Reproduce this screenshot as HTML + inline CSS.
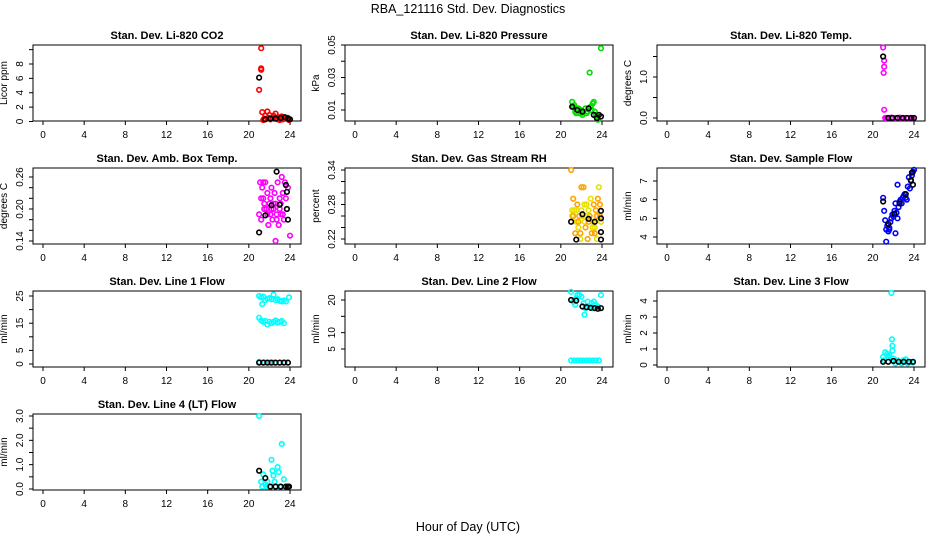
<!DOCTYPE html>
<html><head><meta charset="utf-8"><style>
body{margin:0;background:#fff}
svg{display:block;font-family:"Liberation Sans",Arial,sans-serif}
</style></head><body>
<svg id="c" width="936" height="540" viewBox="0 0 936 540" xmlns="http://www.w3.org/2000/svg">
<text x="468" y="13" text-anchor="middle" font-size="12.5">RBA_121116  Std. Dev. Diagnostics</text>
<text x="468" y="531" text-anchor="middle" font-size="12.5">Hour of Day (UTC)</text>
</svg>
<script>
const xTicks=[0,4,8,12,16,20,24];
// Panel 1 CO2
const p1Hours=[21.2,21.2,21.2,21.0,21.3,21.5,21.8,22.0,22.3,22.6,22.9,23.2,23.5,21.6,22.1,22.8,23.8,23.9,21.4,23.0,22.4,21.9,23.3];
const p1Values=[10.2,7.4,7.2,4.4,1.3,0.4,1.4,0.9,0.5,1.1,0.6,0.7,0.4,0.8,0.3,0.3,0.5,0.2,0.2,0.2,0.8,0.5,0.3];
const p1BlackHours=[21.0,21.6,22.1,22.6,23.1,23.5,23.8,24.0];
const p1BlackValues=[6.1,0.3,0.4,0.4,0.5,0.6,0.4,0.3];
// Panel 2 Pressure
const p2Hours=[21.1,21.2,21.4,21.5,21.7,21.9,22.0,22.2,22.4,22.6,22.8,22.9,23.0,23.1,23.2,23.4,23.5,23.6,23.9,21.3,22.1,22.5,23.3,21.8,22.7];
const p2Values=[0.015,0.012,0.009,0.008,0.011,0.010,0.008,0.009,0.011,0.009,0.033,0.012,0.010,0.014,0.015,0.007,0.006,0.004,0.048,0.013,0.007,0.008,0.009,0.008,0.011];
const p2BlackHours=[21.1,21.6,22.1,22.7,23.2,23.7,23.9,23.5];
const p2BlackValues=[0.012,0.010,0.009,0.011,0.007,0.007,0.006,0.005];
// Panel 3 Temp
const p3Hours=[21.0,21.1,21.1,21.05,21.1,21.2,21.5,21.8,22.2,22.6,23.0,23.4,23.8,21.35,22.8];
const p3Values=[1.72,1.4,1.25,1.1,0.2,0,0,0.01,0,0.01,0,0,0,0,0];
const p3BlackHours=[21.0,21.5,21.9,22.4,22.9,23.3,23.7,24.0];
const p3BlackValues=[1.5,0,0,0,0,0,0,0];
// Panel 4 Box temp
const p4Hours=[21.0,21.1,21.2,21.3,21.4,21.5,21.6,21.7,21.8,21.9,22.0,22.1,22.2,22.3,22.4,22.5,22.6,22.7,22.8,22.9,23.0,23.1,23.2,23.3,23.4,23.5,23.6,23.7,23.8,24.0,21.2,21.5,21.8,22.1,22.4,22.7,23.0,23.3,21.4,22.6,23.1,22.2];
const p4Values=[0.19,0.25,0.18,0.24,0.22,0.21,0.25,0.20,0.23,0.17,0.21,0.19,0.24,0.18,0.20,0.23,0.14,0.19,0.25,0.17,0.22,0.21,0.26,0.19,0.18,0.25,0.22,0.20,0.24,0.15,0.22,0.20,0.19,0.22,0.21,0.18,0.20,0.23,0.25,0.21,0.19,0.20];
const p4BlackHours=[21.0,21.6,22.2,22.7,23.0,23.6,23.7,23.7,23.8];
const p4BlackValues=[0.156,0.188,0.207,0.270,0.208,0.245,0.200,0.232,0.180];
// Panel 5 RH
const p5Hours=[21.0,21.1,21.2,21.3,21.4,21.5,21.6,21.7,21.8,21.9,22.0,22.1,22.2,22.3,22.4,22.5,22.6,22.7,22.8,22.9,23.0,23.1,23.2,23.3,23.4,23.5,23.6,23.7,23.8,23.9,21.2,21.5,21.9,22.3,22.7,23.1,23.5,21.1,21.7,22.5,23.3,22.0,23.8];
const p5Values=[0.34,0.26,0.29,0.27,0.23,0.25,0.28,0.24,0.26,0.22,0.31,0.26,0.31,0.25,0.24,0.28,0.22,0.27,0.26,0.29,0.23,0.25,0.28,0.24,0.27,0.22,0.29,0.31,0.26,0.25,0.26,0.27,0.23,0.28,0.25,0.24,0.26,0.27,0.25,0.26,0.23,0.27,0.28];
const p5BlackHours=[21.0,21.5,22.1,22.7,23.3,23.9,23.9,23.9,23.9];
const p5BlackValues=[0.250,0.219,0.263,0.255,0.250,0.269,0.256,0.232,0.219];
// Panel 6 Sample flow
const p6Hours=[21.0,21.1,21.2,21.3,21.4,21.5,21.6,21.7,21.8,21.9,22.0,22.1,22.2,22.3,22.4,22.5,22.6,22.7,22.8,22.9,23.0,23.1,23.2,23.3,23.4,23.5,23.6,23.7,23.8,23.9,24.0,21.3,21.6,22.2,22.4];
const p6Values=[6.1,5.4,4.9,4.4,4.6,4.3,4.5,4.8,5.0,5.2,5.1,5.4,5.8,5.3,6.8,5.6,5.9,6.0,5.8,6.1,6.2,6.3,6.1,6.0,6.7,7.2,6.6,7.0,7.3,7.5,7.6,3.75,4.4,4.2,5.0];
const p6BlackHours=[21.0,21.5,22.1,22.6,23.2,23.7,23.8,23.9];
const p6BlackValues=[5.9,4.7,5.25,5.8,6.3,7.05,7.45,6.8];
// Panel 7 Line 1 flow
const p7Hours=[21.0,21.2,21.4,21.6,21.8,22.0,22.2,22.4,22.6,22.8,23.0,23.2,23.4,23.6,23.9,21.3,21.0,21.2,21.4,21.6,21.8,22.0,22.2,22.4,22.6,22.8,23.0,23.2,23.4,21.0,21.5,22.0,22.5,23.0,23.5];
const p7Values=[25,24.5,24.8,23.5,24,24.2,23.8,25.5,23.5,23.8,23.2,23,23.4,23,24.5,22,17,16,15.5,15.8,14.5,15.5,15,15.5,16,15.2,15.5,15.8,15,0.8,0.6,0.5,0.5,0.5,0.6];
const p7BlackHours=[21.0,21.4,21.8,22.2,22.6,23.0,23.4,23.8];
const p7BlackValues=[0.5,0.5,0.5,0.5,0.5,0.5,0.5,0.5];
// Panel 8 Line 2 flow
const p8Hours=[21.0,21.2,21.4,21.6,21.8,22.0,22.2,22.4,22.6,22.8,23.0,23.2,23.4,23.6,23.9,21.5,22.3,23.1,21.0,21.3,21.6,21.9,22.2,22.5,22.8,23.1,23.4,23.7];
const p8Values=[22.5,19.5,18.5,21.5,21.5,21,19,17.5,19.5,18,19,19.5,18.5,18,21.5,20.5,15.5,17.5,1.5,1.5,1.5,1.5,1.5,1.5,1.5,1.5,1.5,1.5];
const p8BlackHours=[21.0,21.5,22.1,22.5,22.9,23.3,23.6,23.9];
const p8BlackValues=[20,19.8,18,17.8,17.6,17.5,17.3,17.5];
// Panel 9 Line 3 flow
const p9Hours=[21.0,21.2,21.4,21.6,21.8,21.85,21.9,21.9,22.0,22.2,22.4,22.6,22.8,23.0,23.2,23.4,23.6,23.9,21.1,21.5];
const p9Values=[0.5,0.8,0.7,0.6,4.5,1.6,1.2,0.9,0.4,0.1,0.3,0.2,0.1,0.3,0.35,0.1,0.2,0.15,0.3,0.5];
const p9BlackHours=[21.0,21.5,22.0,22.5,23.0,23.5,23.9];
const p9BlackValues=[0.2,0.2,0.25,0.2,0.2,0.2,0.2];
// Panel 10 Line 4 flow
const p10Hours=[21.0,21.2,21.4,21.6,21.8,22.0,22.2,22.3,22.4,22.5,22.8,22.9,23.0,23.2,23.4,23.6,23.9,21.3,21.7,22.6,23.1];
const p10Values=[3.0,0.3,0.6,0.2,0.3,0.1,1.2,0.75,0.55,0.3,0.9,0.7,0.1,1.85,0.4,0.1,0.1,0.1,0.1,0.1,0.1];
const p10BlackHours=[21.0,21.6,22.1,22.6,23.1,23.6,23.8,23.9];
const p10BlackValues=[0.75,0.45,0.1,0.1,0.1,0.1,0.1,0.1];

const NS='http://www.w3.org/2000/svg';
const svg=document.getElementById('c');
function mk(tag,attrs,parent){const e=document.createElementNS(NS,tag);for(const k in attrs)e.setAttribute(k,attrs[k]);(parent||svg).appendChild(e);return e;}

const panels=[
 {id:'co2',title:'Stan. Dev. Li-820 CO2',yl:'Licor ppm',col:0,row:0,cal:[0,121.5,8,64],ticks:[0,2,4,6,8,10],labels:['0','2','4','6','8',''],c:['#ff0000'],h:p1Hours,v:p1Values,bh:p1BlackHours,bv:p1BlackValues},
 {id:'pressure',title:'Stan. Dev. Li-820 Pressure',yl:'kPa',col:1,row:0,cal:[0.01,110,0.05,45],ticks:[0.01,0.02,0.03,0.04,0.05],labels:['0.01','','0.03','','0.05'],c:['#00e000'],h:p2Hours,v:p2Values,bh:p2BlackHours,bv:p2BlackValues},
 {id:'temp',title:'Stan. Dev. Li-820 Temp.',yl:'degrees C',col:2,row:0,cal:[0,118,1,77],ticks:[0,0.5,1,1.5],labels:['0.0','','1.0',''],c:['#ff00ff'],h:p3Hours,v:p3Values,bh:p3BlackHours,bv:p3BlackValues},
 {id:'box-temp',title:'Stan. Dev. Amb. Box Temp.',yl:'degrees C',col:0,row:1,cal:[0.14,241,0.26,177],ticks:[0.14,0.16,0.18,0.20,0.22,0.24,0.26],labels:['0.14','','','0.20','','','0.26'],c:['#ff00ff'],h:p4Hours,v:p4Values,bh:p4BlackHours,bv:p4BlackValues},
 {id:'rh',title:'Stan. Dev. Gas Stream RH',yl:'percent',col:1,row:1,cal:[0.22,239,0.34,170],ticks:[0.22,0.24,0.26,0.28,0.30,0.32,0.34],labels:['0.22','','','0.28','','','0.34'],c:['#ffa500','#e8e000'],h:p5Hours,v:p5Values,bh:p5BlackHours,bv:p5BlackValues},
 {id:'sample-flow',title:'Stan. Dev. Sample Flow',yl:'ml/min',col:2,row:1,cal:[4,237,7,181],ticks:[4,5,6,7],labels:['4','5','6','7'],c:['#0000ff'],h:p6Hours,v:p6Values,bh:p6BlackHours,bv:p6BlackValues},
 {id:'line1-flow',title:'Stan. Dev. Line 1 Flow',yl:'ml/min',col:0,row:2,cal:[0,364,25,296],ticks:[0,5,10,15,20,25],labels:['0','5','','15','','25'],c:['#00ffff'],h:p7Hours,v:p7Values,bh:p7BlackHours,bv:p7BlackValues},
 {id:'line2-flow',title:'Stan. Dev. Line 2 Flow',yl:'ml/min',col:1,row:2,cal:[5,349,20,300],ticks:[5,10,15,20],labels:['5','10','','20'],c:['#00ffff'],h:p8Hours,v:p8Values,bh:p8BlackHours,bv:p8BlackValues},
 {id:'line3-flow',title:'Stan. Dev. Line 3 Flow',yl:'ml/min',col:2,row:2,cal:[0,365,4,301],ticks:[0,1,2,3,4],labels:['0','1','2','3','4'],c:['#00ffff'],h:p9Hours,v:p9Values,bh:p9BlackHours,bv:p9BlackValues},
 {id:'line4-flow',title:'Stan. Dev. Line 4 (LT) Flow',yl:'ml/min',col:0,row:3,cal:[0,489,3,416],ticks:[0,0.5,1,1.5,2,2.5,3],labels:['0.0','','1.0','','2.0','','3.0'],c:['#00ffff'],h:p10Hours,v:p10Values,bh:p10BlackHours,bv:p10BlackValues}
];

panels.forEach(p=>{
  const L=33+p.col*312, W=268, T=45+p.row*123, H=76;
  const g=mk('g',{});
  
  
  const xs=h=>L+10+h*(247/24);
  const ys=v=>p.cal[1]+(v-p.cal[0])*(p.cal[3]-p.cal[1])/(p.cal[2]-p.cal[0]);
  const t=mk('text',{x:L+W/2,y:T-6,'text-anchor':'middle','font-size':'11','font-weight':'bold'},g);
  t.textContent=p.title;
  
  
  const box=mk('rect',{x:L,y:T,width:W,height:H,fill:'none',stroke:'#000','stroke-width':1},g);
  
  
  xTicks.forEach(x=>{
    mk('line',{x1:xs(x),x2:xs(x),y1:T+H,y2:T+H+4,stroke:'#000'},g);
    const tl=mk('text',{x:xs(x),y:T+H+17,'text-anchor':'middle','font-size':'10'},g);
    tl.textContent=x;
    
    
  });
  p.ticks.forEach((v,i)=>{
    const y=ys(v);
    mk('line',{x1:L-4,x2:L,y1:y,y2:y,stroke:'#000'},g);
    if(p.labels[i]){
      const tl=mk('text',{x:L-10,y:y,'text-anchor':'middle','font-size':'10',transform:`rotate(-90 ${L-10} ${y})`},g);
      tl.textContent=p.labels[i];
      
      
    }
  });
  const yt=mk('text',{x:L-26,y:T+H/2,'text-anchor':'middle','font-size':'10',transform:`rotate(-90 ${L-26} ${T+H/2})`},g);
  yt.textContent=p.yl;
  
  
  p.h.forEach((h,i)=>{
    const c=mk('circle',{cx:xs(h),cy:ys(p.v[i]),r:2.3,fill:'none',stroke:p.c[i%p.c.length],'stroke-width':1.6},g);
    
    
  });
  p.bh.forEach((h,i)=>{
    const c=mk('circle',{cx:xs(h),cy:ys(p.bv[i]),r:2.3,fill:'none',stroke:'#000','stroke-width':1.6},g);
    
    
  });
});
</script>
</body></html>
